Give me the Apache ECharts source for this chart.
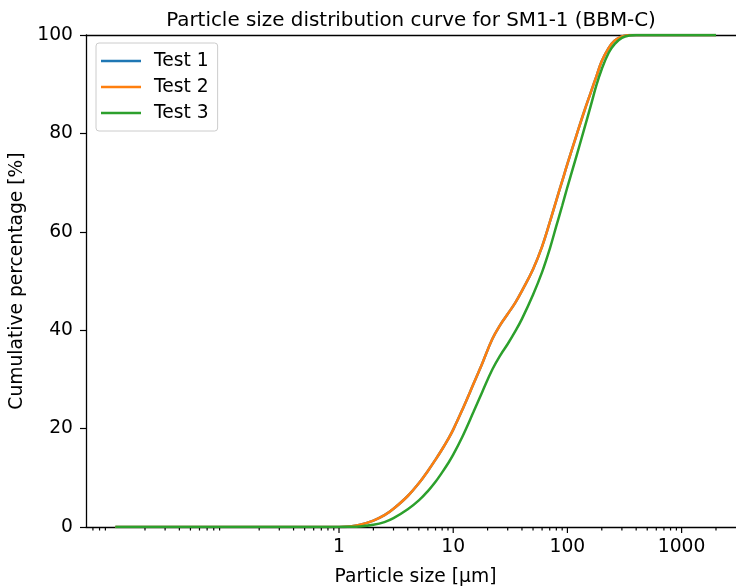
<!DOCTYPE html>
<html>
<head>
<meta charset="utf-8">
<script src="https://cdn.jsdelivr.net/npm/echarts@6/dist/echarts.min.js"></script>
<style>
  html, body { margin: 0; padding: 0; background: #fff; }
  #chart { width: 736px; height: 588px; }
</style>
</head>
<body>
<div id="chart"></div>
<script>
// Particle sizes (µm) at which the cumulative percentages are reported
const sizes = [0.011, 0.02, 0.05, 0.1, 0.2, 0.5, 1.0, 1.25, 1.5, 2, 2.5, 3, 4, 5, 6, 7, 8, 9, 10, 12, 15, 18, 22, 26, 30, 35, 40, 50, 60, 70, 80, 90, 100, 120, 140, 160, 180, 200, 230, 260, 300, 350, 400, 500, 700, 1000, 1500, 2000];

// Cumulative passing percentages for each test
const test1 = [0, 0, 0, 0, 0, 0, 0, 0.1, 0.4, 1.3, 2.4, 3.7, 6.3, 8.9, 11.4, 13.7, 15.8, 17.8, 19.8, 23.8, 29.0, 33.3, 38.2, 41.2, 43.3, 45.6, 48.0, 52.4, 57.0, 61.9, 66.4, 70.3, 73.8, 79.6, 84.4, 88.3, 91.7, 94.7, 97.4, 98.9, 99.7, 100, 100, 100, 100, 100, 100, 100];
const test2 = [0, 0, 0, 0, 0, 0, 0, 0.1, 0.4, 1.3, 2.4, 3.7, 6.3, 8.9, 11.4, 13.7, 15.8, 17.8, 19.8, 23.8, 29.0, 33.3, 38.2, 41.2, 43.3, 45.6, 48.0, 52.4, 57.0, 61.9, 66.4, 70.3, 73.8, 79.6, 84.4, 88.3, 91.7, 94.7, 97.4, 98.9, 99.7, 100, 100, 100, 100, 100, 100, 100];
const test3 = [0, 0, 0, 0, 0, 0, 0, 0.03, 0.1, 0.45, 1.0, 1.8, 3.6, 5.4, 7.3, 9.2, 11.1, 12.9, 14.7, 18.3, 23.3, 27.5, 32.0, 35.0, 37.2, 39.8, 42.3, 47.2, 51.8, 56.5, 61.2, 65.3, 69.1, 75.4, 80.8, 85.6, 89.9, 93.1, 96.4, 98.2, 99.4, 99.9, 100, 100, 100, 100, 100, 100];

const seriesNames = ['Test 1', 'Test 2', 'Test 3'];
const seriesColors = ['#1f77b4', '#ff7f0e', '#2ca02c'];

// Log-axis tick positions (labels only on the decades 1..1000)
const majorTicks = [1, 10, 100, 1000];
const minorTicks = [0.007, 0.008, 0.009,
  0.02, 0.03, 0.04, 0.05, 0.06, 0.07, 0.08, 0.09,
  0.2, 0.3, 0.4, 0.5, 0.6, 0.7, 0.8, 0.9,
  2, 3, 4, 5, 6, 7, 8, 9,
  20, 30, 40, 50, 60, 70, 80, 90,
  200, 300, 400, 500, 600, 700, 800, 900,
  2000];

const FONT = 'DejaVu Sans';
const FS = 18.7;

function pairs(values) {
  return sizes.map((s, i) => [s, values[i]]);
}

function tickSeries(values, len) {
  return {
    type: 'custom',
    silent: true,
    clip: false,
    z: 5,
    data: values.map(v => [v, 0]),
    renderItem: function (params, api) {
      const p = api.coord([api.value(0), 0]);
      return {
        type: 'line',
        shape: { x1: p[0], y1: p[1], x2: p[0], y2: p[1] + len },
        style: { stroke: '#000', lineWidth: 1.2 }
      };
    }
  };
}

const chart = echarts.init(document.getElementById('chart'), null, { renderer: 'canvas' });

const lineSeries = [test1, test2, test3].map((vals, i) => ({
  name: seriesNames[i],
  type: 'line',
  data: pairs(vals),
  showSymbol: false,
  symbol: 'none',
  smooth: 0.4,
  z: 3 + i,
  lineStyle: { color: seriesColors[i], width: 2.5 },
  itemStyle: { color: seriesColors[i] }
}));

chart.setOption({
  animation: false,
  backgroundColor: '#fff',
  title: {
    text: 'Particle size distribution curve for SM1-1 (BBM-C)',
    left: 406,
    top: 6,
    textAlign: 'center',
    textStyle: { fontFamily: FONT, fontSize: 19.9, fontWeight: 'normal', color: '#000' }
  },
  legend: {
    data: seriesNames.map((n, i) => ({ name: n, icon: 'rect', itemStyle: { color: seriesColors[i] } })),
    orient: 'vertical',
    left: 96,
    top: 43,
    itemWidth: 40,
    itemHeight: 2.5,
    itemGap: 4,
    padding: [7, 9, 7, 5],
    borderColor: '#cccccc',
    borderWidth: 1,
    borderRadius: 3,
    backgroundColor: 'rgba(255,255,255,0.8)',
    textStyle: { fontFamily: FONT, fontSize: FS, color: '#000', padding: [0, 0, 0, 8], lineHeight: 22 }
  },
  grid: {
    left: 86,
    top: 35,
    right: 0,
    bottom: 61,
    show: false,
    containLabel: false,
    outerBoundsMode: 'none'
  },
  xAxis: [{
    type: 'log',
    logBase: 10,
    min: 0.006088,
    max: 2994,
    name: 'Particle size [µm]',
    nameLocation: 'middle',
    nameGap: 41,
    nameTextStyle: { fontFamily: FONT, fontSize: FS, color: '#000', padding: [0, 0, 0, 9] },
    axisLine: { show: true, lineStyle: { color: '#000', width: 1.3 } },
    axisTick: { show: false },
    splitLine: { show: false },
    minorTick: { show: false },
    axisLabel: {
      fontFamily: FONT,
      fontSize: FS,
      color: '#000',
      margin: 11,
      showMinLabel: false,
      showMaxLabel: false,
      formatter: function (v) {
        for (const m of majorTicks) {
          if (Math.abs(v - m) / m < 1e-6) return String(m);
        }
        return '';
      }
    }
  }, {
    // top spine
    type: 'value',
    position: 'top',
    min: 0,
    max: 1,
    axisLine: { show: true, onZero: false, lineStyle: { color: '#000', width: 1.3 } },
    axisTick: { show: false },
    axisLabel: { show: false },
    splitLine: { show: false }
  }],
  yAxis: {
    type: 'value',
    min: 0,
    max: 100,
    interval: 20,
    name: 'Cumulative percentage [%]',
    nameLocation: 'middle',
    nameGap: 54,
    nameTextStyle: { fontFamily: FONT, fontSize: FS, color: '#000' },
    axisLine: { show: true, lineStyle: { color: '#000', width: 1.3 } },
    axisTick: { show: true, length: 6, lineStyle: { color: '#000', width: 1.2 } },
    splitLine: { show: false },
    axisLabel: { fontFamily: FONT, fontSize: FS, color: '#000', margin: 13 }
  },
  series: lineSeries.concat([tickSeries(majorTicks, 6), tickSeries(minorTicks, 3.5)])
});
</script>
</body>
</html>
